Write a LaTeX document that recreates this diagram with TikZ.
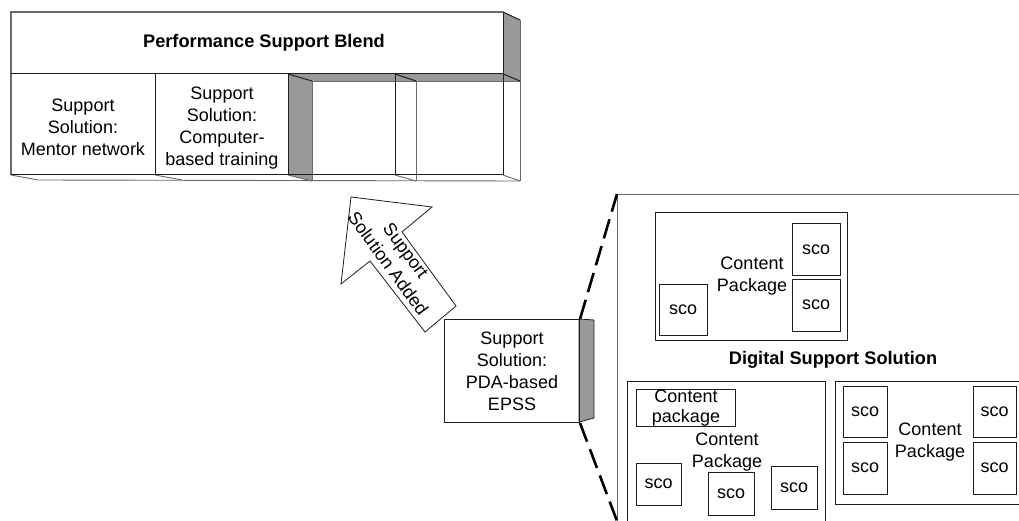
\documentclass[tikz,border=0pt]{standalone}
\usepackage{fontspec}
\setmainfont{Liberation Sans}
\definecolor{panel}{RGB}{153,153,153}
\definecolor{edge}{RGB}{30,30,30}
\definecolor{backedge}{RGB}{105,105,105}

\begin{document}
\begin{tikzpicture}[x=1pt,y=-1pt,
  txt/.style={font=\fontsize{18}{22}\selectfont, align=center, inner sep=0pt},
  title/.style={txt, font=\fontsize{18.2}{22}\selectfont\bfseries},
  frame/.style={draw=edge, line width=1pt},
  backline/.style={draw=backedge, line width=0.9pt},
  box/.style={frame, inner sep=0pt, anchor=north west},
  scobox/.style={draw=edge, line width=1pt, inner sep=0pt,
    font=\fontsize{18}{22}\selectfont},
  zoomline/.style={draw=black, line width=2.6pt, dash pattern=on 20pt off 8pt},
]
\useasboundingbox (0,0) rectangle (1019,521);
\clip (0,0) rectangle (1019,521);

% ---------- Performance support blend (3-D shelf) ----------
% shaded faces
\fill[panel] (503,12) -- (520,20) -- (520,81) -- (503,74) -- cycle;
\fill[panel] (288,74) -- (503,74) -- (520,81) -- (312,81) -- cycle;
\fill[panel] (288,74) -- (312,81) -- (312,181) -- (288,175) -- cycle;
% floor and back edges
\draw[backline] (11,175) -- (38,180) -- (520,181);
\draw[backline] (155,175) -- (182,180);
\draw[backline] (312,81) -- (520,81);
\draw[backline] (312,81) -- (312,181);
\draw[backline] (416,81) -- (416,181);
\draw[backline] (520,20) -- (520,181);
\draw[backline] (288,175) -- (312,181);
\draw[backline] (395,175) -- (416,181);
\draw[backline] (503,175) -- (520,181);
\draw[frame] (288,74) -- (312,81);
\draw[frame] (395,74) -- (416,81);
\draw[frame] (503,74) -- (520,81);
\draw[frame] (503,12) -- (520,20);
% front outline
\draw[frame, draw=backedge, line width=1.3pt] (11,175) -- (11,12) -- (503,12);
\draw[frame] (503,12) -- (503,175) -- (11,175);
\draw[frame] (11,74) -- (503,74);
\draw[frame] (155,74) -- (155,175);
\draw[frame] (288,74) -- (288,175);
\draw[frame] (395,74) -- (395,175);

\node[title] (blend) at (264,43) {Performance Support Blend};
\node[txt] (mentor) at (83,127) {Support\\Solution:\\Mentor network};
\node[txt] (cbt) at (222,128) {Support\\Solution:\\Computer-\\based training};

% ---------- block arrow ----------
\draw[frame, line width=0.8pt, fill=white]
  (351,197) -- (432,207) -- (402,232) -- (456,306) -- (425,332)
  -- (370,261) -- (341,284) -- cycle;
\node[txt, rotate=-53.7] (added) at (397,257) {Support\\Solution Added};

% ---------- PDA-based EPSS ----------
\filldraw[fill=panel, draw=edge, line width=0.8pt]
  (579,319) -- (594,320) -- (594,418) -- (579,422) -- cycle;
\node[box, txt, minimum width=135pt, minimum height=103pt] (pda) at (444,319)
  {Support\\Solution:\\PDA-based\\EPSS};

% ---------- Digital support solution ----------
\node[box, draw=backedge, line width=1.2pt, minimum width=450pt,
  minimum height=360pt] (dss) at (617,194) {};
\coordinate (dss-low) at (617,521);
\draw[zoomline] (pda.north east) -- (dss.north west);
\draw[zoomline] (pda.south east) -- (dss-low);

\node[title] (dss-title) at (833,360) {Digital Support Solution};

% upper content package
\node[box, minimum width=192pt, minimum height=128pt] (cp1) at (655,212) {};
\node[scobox, minimum width=48pt, minimum height=51pt] (cp1-a) at (683,309.5) {sco};
\node[scobox, minimum width=48pt, minimum height=51pt] (cp1-b) at (816,249.5) {sco};
\node[scobox, minimum width=48pt, minimum height=52pt] (cp1-c) at (816,305) {sco};
\node[txt] (cp1-label) at (752,276) {Content\\Package};

% lower left content package
\node[box, minimum width=198pt, minimum height=180pt] (cp2) at (627,381) {};
\node[frame, inner sep=0pt, minimum width=99pt, minimum height=37pt] (cp2-inner) at (685.5,407.5) {};
\node[txt, font=\fontsize{18}{20}\selectfont] (cp2-inner-label) at (686,408) {Content\\package};
\node[scobox, minimum width=45pt, minimum height=42pt] (cp2-a) at (658.5,484) {sco};
\node[scobox, minimum width=46pt, minimum height=43pt] (cp2-b) at (731,493.5) {sco};
\node[scobox, minimum width=46pt, minimum height=43pt] (cp2-c) at (794,487.5) {sco};
\node[txt] (cp2-label) at (727,452) {Content\\Package};

% lower right content package
\node[box, minimum width=200pt, minimum height=123pt] (cp3) at (835,381) {};
\node[scobox, minimum width=44pt, minimum height=51pt] (cp3-a) at (865,411.5) {sco};
\node[scobox, minimum width=44pt, minimum height=52pt] (cp3-b) at (865,468) {sco};
\node[scobox, minimum width=43pt, minimum height=51pt] (cp3-c) at (994.5,411.5) {sco};
\node[scobox, minimum width=43pt, minimum height=52pt] (cp3-d) at (994.5,468) {sco};
\node[txt] (cp3-label) at (930,442) {Content\\Package};
\end{tikzpicture}
\end{document}
